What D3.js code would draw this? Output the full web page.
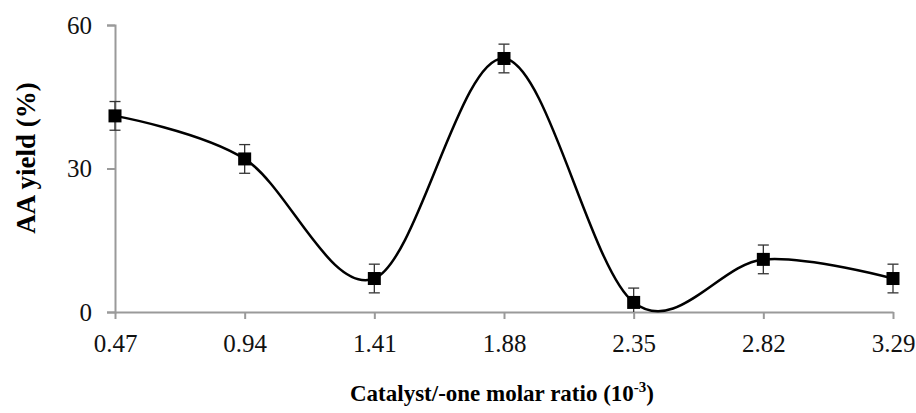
<!DOCTYPE html>
<html>
<head>
<meta charset="utf-8">
<script src="https://cdn.jsdelivr.net/npm/d3@7"></script>
<style>
  body { margin: 0; background: #fff; }
  text { font-family: "Liberation Serif", "Times New Roman", serif; }
</style>
</head>
<body>
<div id="chart"></div>
<script>
'use strict';

// data
var ratios = [0.47, 0.94, 1.41, 1.88, 2.35, 2.82, 3.29];
var yields = [41, 32, 7, 53, 2, 11, 7];
var errors = [3, 3, 3, 3, 3, 3, 3];
var yTicks = [0, 30, 60];

var chart = {};
chart.w = 916;
chart.h = 413;
chart.margins = {top: 25, right: 23, bottom: 101, left: 115};
chart.cw = chart.w - chart.margins.left - chart.margins.right;
chart.ch = chart.h - chart.margins.top - chart.margins.bottom;

var svg = d3.select('#chart').append('svg')
    .attr('width', chart.w)
    .attr('height', chart.h);

var g = svg.append('g')
    .attr('transform', 'translate(' + chart.margins.left + ',' + chart.margins.top + ')');

var x = d3.scaleLinear().domain([0.47, 3.29]).range([0, chart.cw]);
var y = d3.scaleLinear().domain([0, 60]).range([chart.ch, 0]);

var pts = ratios.map(function(r, i){ return {x: r, y: yields[i], e: errors[i]}; });

// error bars below zero are hidden by the axis, as in the original
g.append('clipPath').attr('id', 'plotClip')
  .append('rect')
    .attr('x', -20).attr('y', -20)
    .attr('width', chart.cw + 40).attr('height', chart.ch + 20);

// axes
var xAxis = g.append('g')
    .attr('transform', 'translate(0,' + chart.ch + ')')
    .call(d3.axisBottom(x).tickValues(ratios).tickFormat(d3.format('.2f'))
        .tickSizeInner(7).tickSizeOuter(0).tickPadding(15));

var yAxis = g.append('g')
    .call(d3.axisLeft(y).tickValues(yTicks)
        .tickSizeInner(8).tickSizeOuter(8).tickPadding(15));

[xAxis, yAxis].forEach(function(a){
    a.select('.domain').attr('stroke', '#9a9a9a').attr('stroke-width', 2);
    a.selectAll('.tick line').attr('stroke', '#9a9a9a').attr('stroke-width', 2);
    a.selectAll('.tick text')
        .attr('fill', '#111')
        .style('font-family', '"Liberation Serif", serif')
        .style('font-size', '25px');
});

// smoothed line
var line = d3.line()
    .x(function(d){ return x(d.x); })
    .y(function(d){ return y(d.y); })
    .curve(d3.curveCardinal.tension(0));

g.append('path')
    .datum(pts)
    .attr('d', line)
    .attr('fill', 'none')
    .attr('stroke', '#000')
    .attr('stroke-width', 2.5);

// error bars
var eb = g.selectAll('.err').data(pts).enter().append('g')
    .attr('class', 'err')
    .attr('clip-path', 'url(#plotClip)');
var cap = 5.5;
eb.append('line')
    .attr('x1', function(d){ return x(d.x); })
    .attr('x2', function(d){ return x(d.x); })
    .attr('y1', function(d){ return y(d.y + d.e); })
    .attr('y2', function(d){ return y(d.y - d.e); });
eb.append('line')
    .attr('x1', function(d){ return x(d.x) - cap; })
    .attr('x2', function(d){ return x(d.x) + cap; })
    .attr('y1', function(d){ return y(d.y + d.e); })
    .attr('y2', function(d){ return y(d.y + d.e); });
eb.append('line')
    .attr('x1', function(d){ return x(d.x) - cap; })
    .attr('x2', function(d){ return x(d.x) + cap; })
    .attr('y1', function(d){ return y(d.y - d.e); })
    .attr('y2', function(d){ return y(d.y - d.e); });
eb.selectAll('line').attr('stroke', '#333').attr('stroke-width', 1.3);

// square markers
var ms = 13;
g.selectAll('.mark').data(pts).enter().append('rect')
    .attr('class', 'mark')
    .attr('x', function(d){ return x(d.x) - ms / 2; })
    .attr('y', function(d){ return y(d.y) - ms / 2; })
    .attr('width', ms)
    .attr('height', ms)
    .attr('fill', '#000');

// axis titles
svg.append('text')
    .attr('transform', 'translate(35,' + 158 + ') rotate(-90)')
    .attr('text-anchor', 'middle')
    .style('font-size', '27px')
    .style('font-weight', 'bold')
    .text('AA yield (%)');

var xt = svg.append('text')
    .attr('x', 502)
    .attr('y', 401)
    .attr('text-anchor', 'middle')
    .style('font-size', '23px')
    .style('font-weight', 'bold');
xt.append('tspan').text('Catalyst/-one molar ratio (10');
xt.append('tspan').attr('dy', -9).style('font-size', '15px').text('-3');
xt.append('tspan').attr('dy', 9).text(')');
</script>
</body>
</html>
